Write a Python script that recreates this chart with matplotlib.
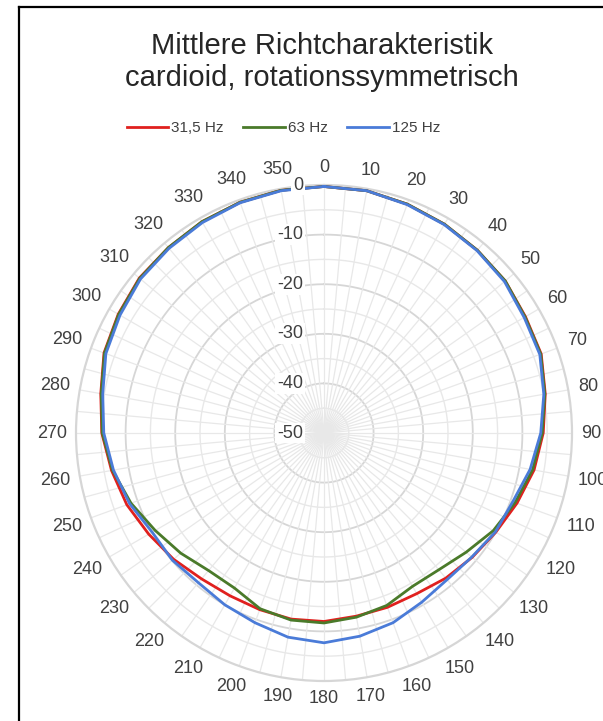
import matplotlib.pyplot as plt
import numpy as np

plt.rcParams['font.family'] = ['Liberation Sans', 'DejaVu Sans']

# Winkel in Grad, Pegel in dB
winkel = list(range(0, 360, 10))
hz_31_5 = [-0.3, -0.4, -0.9, -1.4, -1.9, -2.3, -3.1, -3.4, -4.7, -5.8, -7.0, -8.6,
           -10.0, -11.0, -11.8, -12.6, -12.6, -12.5, -12.0, -11.9, -12.1, -12.1, -11.6, -10.4,
           -9.2, -7.7, -6.5, -5.2, -4.3, -2.8, -2.1, -1.4, -1.2, -0.8, -0.5, -0.3]
hz_63 = [-0.3, -0.4, -0.9, -1.4, -1.9, -2.3, -3.2, -3.5, -4.8, -6.0, -7.3, -9.0,
         -10.6, -12.6, -14.0, -14.3, -13.0, -12.3, -11.7, -11.7, -12.3, -13.9, -13.8, -12.3,
         -10.7, -8.6, -6.7, -5.3, -4.4, -2.9, -2.2, -1.5, -1.2, -0.8, -0.5, -0.3]
hz_125 = [-0.3, -0.4, -1.0, -1.5, -2.0, -2.5, -3.4, -3.7, -5.0, -6.3, -7.8, -9.5,
          -10.1, -11.1, -11.4, -10.6, -9.3, -8.4, -7.7, -8.2, -9.3, -10.0, -10.6, -10.1,
          -10.0, -8.3, -6.9, -5.6, -4.7, -3.2, -2.5, -1.7, -1.4, -1.0, -0.6, -0.4]
radial_ticks = [0, -10, -20, -30, -40, -50]

fig = plt.figure(figsize=(6.03, 7.21), dpi=100)
W, H = 603, 721
cx, cy, R = 324, 433, 248
ax = fig.add_axes([(cx - R) / W, (H - cy - R) / H, 2 * R / W, 2 * R / H], projection='polar')
ax.set_theta_zero_location('N')
ax.set_theta_direction(-1)
ax.set_ylim(-50, 0)
ax.grid(False)
ax.set_xticks([])
ax.set_yticks([])
ax.spines['polar'].set_color('#d6d6d6')
ax.spines['polar'].set_linewidth(1.6)

# Gitter
th = np.linspace(0, 2 * np.pi, 400)
for r in range(-45, 0, 5):
    if r % 10 == 0:
        ax.plot(th, [r] * len(th), color='#d6d6d6', lw=1.3, zorder=1)
    else:
        ax.plot(th, [r] * len(th), color='#e8e8e8', lw=1.0, zorder=1)
for a in range(0, 360, 5):
    ax.plot([np.deg2rad(a)] * 2, [-50, 0], color='#e8e8e8', lw=0.9, zorder=1)

t = np.deg2rad(winkel + [winkel[0]])
ax.plot(t, hz_31_5 + [hz_31_5[0]], color='#e0201e', lw=2.0, label='31,5 Hz', zorder=3)
ax.plot(t, hz_63 + [hz_63[0]], color='#4a7a2a', lw=2.0, label='63 Hz', zorder=4)
ax.plot(t, hz_125 + [hz_125[0]], color='#4a7bd8', lw=2.0, label='125 Hz', zorder=5)

# Winkelbeschriftung
px_per_db = R / 50.0
for a in winkel:
    lab = str(a)
    s, c = abs(np.sin(np.deg2rad(a))), abs(np.cos(np.deg2rad(a)))
    dist = R + 10 + 0.5 * (9.3 * len(lab) * s + 15 * c)
    ax.text(np.deg2rad(a), dist / px_per_db - 50, lab, ha='center', va='center',
            fontsize=13, color='#404040', clip_on=False)

# Pegelbeschriftung
for v in radial_ticks:
    ax.annotate(str(v), xy=(0, v), xytext=(-21, 0), textcoords='offset pixels',
                ha='right', va='center', fontsize=13, color='#404040', zorder=6,
                bbox=dict(boxstyle='square,pad=0.1', fc='white', ec='none'))

fig.text(0.534, 1 - 46 / H, 'Mittlere Richtcharakteristik', ha='center', va='center',
         fontsize=21, color='#262626')
fig.text(0.534, 1 - 78 / H, 'cardioid, rotationssymmetrisch', ha='center', va='center',
         fontsize=21, color='#262626')

fig.legend(loc='center', bbox_to_anchor=(0.47, 1 - 128 / H), ncol=3, frameon=False,
           fontsize=11, handlelength=2.7, columnspacing=1.3, handletextpad=0.2,
           labelcolor='#404040')

# Rahmen
fig.add_artist(plt.Line2D([19 / W, 19 / W], [0, 1 - 7 / H], color='black', lw=1.6,
                          transform=fig.transFigure))
fig.add_artist(plt.Line2D([19 / W, 1], [1 - 7 / H, 1 - 7 / H], color='black', lw=1.6,
                          transform=fig.transFigure))

fig.savefig('out.png', dpi=100)
